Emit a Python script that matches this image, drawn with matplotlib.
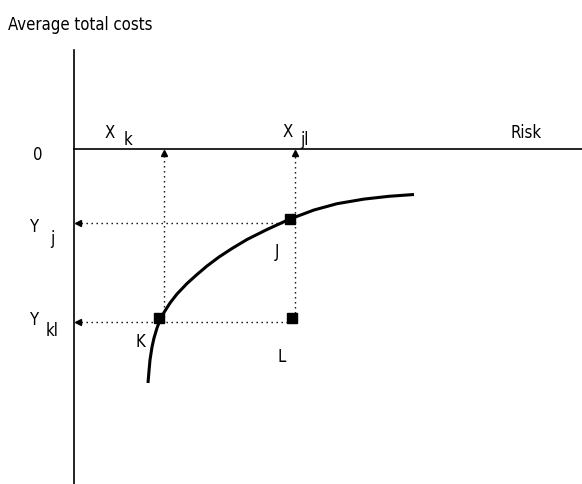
import matplotlib
matplotlib.use("Agg")
import matplotlib.pyplot as plt

plt.rcParams['font.family'] = ['DejaVu Sans']
plt.rcParams['font.stretch'] = 'condensed'

# coordinates: origin where the two axes cross, y negative downwards
curve_x = [74, 75, 76, 78, 80, 83, 86, 90, 96, 103, 113, 123, 133, 145, 158, 173, 193, 216, 240, 263, 290, 315, 340]
curve_y = [-234, -222, -211, -198, -189, -179, -171, -163.5, -154, -145, -134.5, -125.5, -117, -108, -99.5, -90.5,
           -80.5, -70, -61, -54.7, -50.1, -47.3, -45.5]

point_names = ['K', 'J', 'L']
point_x = [85, 216, 218]
point_y = [-169, -70, -169]

x_k, x_jl = 90, 221
y_j, y_kl = -74, -173

fig = plt.figure(figsize=(5.82, 4.84), dpi=100)
ax = fig.add_axes([0, 0, 1, 1])
ax.set_xlim(-74, 508)
ax.set_ylim(-335, 149)
ax.axis('off')

# axes
ax.plot([0, 0], [99, -335], color='black', lw=1.2)
ax.plot([0, 508], [0, 0], color='black', lw=1.2)

dots = dict(color='black', lw=1.0, dashes=(1, 2.6))
# vertical guides up to the risk axis
ax.plot([x_k, x_k], [y_kl, -4], **dots)
ax.plot([x_jl, x_jl], [y_kl + 4, -4], **dots)
ax.plot([x_k, x_jl], [-3.5, -3.5], ls='none', marker='^', ms=5, color='black')
# horizontal guides to the cost axis
ax.plot([2, point_x[2]], [y_kl, y_kl], **dots)
ax.plot([2, point_x[1]], [y_j, y_j], **dots)
ax.plot([3.5, 3.5], [y_j, y_kl], ls='none', marker='<', ms=5, color='black')

ax.plot(curve_x, curve_y, color='black', lw=2.2, solid_capstyle='butt', solid_joinstyle='round')
ax.plot(point_x, point_y, ls='none', marker='s', ms=7, color='black')

fs = 12
ax.text(-66, 124, 'Average total costs', fontsize=fs, va='center', ha='left')
ax.text(-36, -6, '0', fontsize=fs, va='center', ha='center')
ax.text(468, 16, 'Risk', fontsize=fs, va='center', ha='right')
ax.text(36, 16, 'X', fontsize=fs, va='center', ha='center')
ax.text(54, 9, 'k', fontsize=fs, va='center', ha='center')
ax.text(214, 17, 'X', fontsize=fs, va='center', ha='center')
ax.text(230, 9, 'jl', fontsize=fs, va='center', ha='center')
ax.text(-39, y_j - 4, 'Y', fontsize=fs, va='center', ha='center')
ax.text(-22, y_j - 16, 'j', fontsize=fs, va='center', ha='center')
ax.text(-39, y_kl + 2, 'Y', fontsize=fs, va='center', ha='center')
ax.text(-22, y_kl - 9, 'kl', fontsize=fs, va='center', ha='center')
ax.text(203, -103, 'J', fontsize=fs, va='center', ha='center')
ax.text(66, -193, 'K', fontsize=fs, va='center', ha='center')
ax.text(208, -208, 'L', fontsize=fs, va='center', ha='center')

fig.savefig('out.png', dpi=100)
